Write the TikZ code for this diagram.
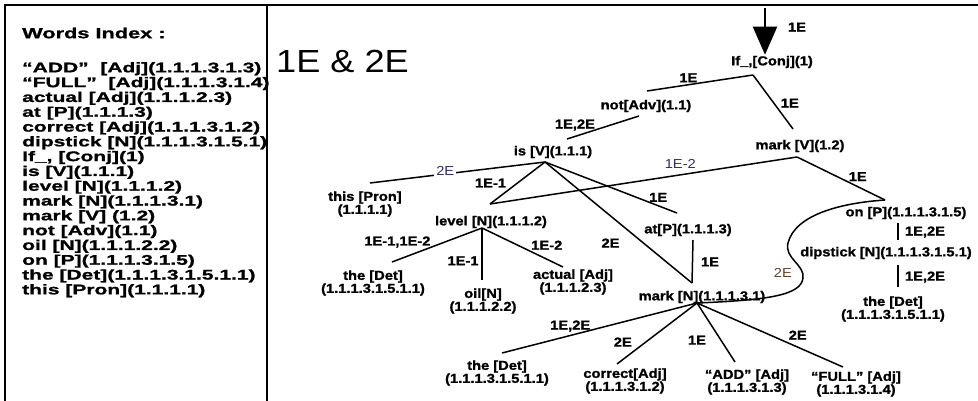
\documentclass[tikz,border=0pt]{standalone}
\usepackage{fontspec}
\setmainfont{Liberation Sans}[FakeStretch=1.13, BoldFeatures={FakeBold=1.2}]
\newfontfamily\idxfont{Liberation Sans}[FakeStretch=1.5, BoldFeatures={FakeBold=1.2}]
\usetikzlibrary{arrows.meta}
\definecolor{labnavy}{RGB}{45,45,95}
\definecolor{labbrown}{RGB}{95,65,45}

\begin{document}
\begin{tikzpicture}[x=1pt,y=-1pt]
\tikzstyle{word}=[inner sep=0pt, align=center, font=\bfseries\fontsize{13}{13}\selectfont]
\tikzstyle{link}=[line width=1.5pt]
\tikzstyle{elab}=[inner sep=0pt, font=\bfseries\fontsize{13}{13}\selectfont]
\tikzstyle{plab}=[inner sep=0pt, font=\fontsize{13}{13}\selectfont]
\tikzstyle{frame}=[line width=2pt]
  \useasboundingbox (0,0) rectangle (978,401);
  \draw[frame] (5,401) -- (5,5) -- (978,5);
  \draw[frame] (267,5) -- (267,401);

  \node[anchor=west, inner sep=0pt, font=\idxfont\bfseries\fontsize{14.5}{14.5}\selectfont] (idxhead) at (22,33) {Words Index :};
  \node[anchor=north west, inner sep=0pt, align=left, font=\idxfont\bfseries\fontsize{14}{14.8}\selectfont] (idxlist) at (22,62) {“ADD”~~[Adj](1.1.1.3.1.3)\\
“FULL”~~[Adj](1.1.1.3.1.4)\\
actual [Adj](1.1.1.2.3)\\
at [P](1.1.1.3)\\
correct [Adj](1.1.1.3.1.2)\\
dipstick [N](1.1.1.3.1.5.1)\\
If\_, [Conj](1)\\
is [V](1.1.1)\\
level [N](1.1.1.2)\\
mark [N](1.1.1.3.1)\\
mark [V] (1.2)\\
not [Adv](1.1)\\
oil [N](1.1.1.2.2)\\
on [P](1.1.1.3.1.5)\\
the [Det](1.1.1.3.1.5.1.1)\\
this [Pron](1.1.1.1)};

  \node[anchor=west, inner sep=0pt, font=\fontsize{32}{32}\selectfont] (title) at (276,61) {1E \& 2E};

  \node[word] (conj) at (772,62) {If\_,[Conj](1)};
  \node[word] (notadv) at (646,106) {not[Adv](1.1)};
  \node[word] (markv) at (800,146) {mark [V](1.2)};
  \node[word] (isv) at (553,152) {is [V](1.1.1)};
  \node[word] (pron) at (365,204) {this [Pron]\\(1.1.1.1)};
  \node[word] (level) at (491,222) {level [N](1.1.1.2)};
  \node[word] (atp) at (688,230) {at[P](1.1.1.3)};
  \node[word] (markn) at (702,297) {mark [N](1.1.1.3.1)};
  \node[word] (onp) at (906,213) {on [P](1.1.1.3.1.5)};
  \node[word] (dip) at (886,253) {dipstick [N](1.1.1.3.1.5.1)};
  \node[word] (detc) at (893,309) {the [Det]\\(1.1.1.3.1.5.1.1)};
  \node[word] (deta) at (373,283) {the [Det]\\(1.1.1.3.1.5.1.1)};
  \node[word] (oil) at (483,301) {oil[N]\\(1.1.1.2.2)};
  \node[word] (actual) at (573,282) {actual [Adj]\\(1.1.1.2.3)};
  \node[word] (detb) at (497,373) {the [Det]\\(1.1.1.3.1.5.1.1)};
  \node[word] (correct) at (625,381) {correct[Adj]\\(1.1.1.3.1.2)};
  \node[word] (add) at (747,382) {“ADD” [Adj]\\(1.1.1.3.1.3)};
  \node[word] (full) at (856,384) {“FULL” [Adj]\\(1.1.1.3.1.4)};

  \coordinate (arrT) at (765,8);
  \coordinate (conjB) at (753,75);
  \coordinate (notT) at (647,91);
  \coordinate (notB) at (639,116);
  \coordinate (markvT) at (793,129);
  \coordinate (markvB) at (797,157);
  \coordinate (isT) at (567,139);
  \coordinate (isB) at (545,162);
  \coordinate (pronT) at (370,183);
  \coordinate (levelT) at (490,204);
  \coordinate (levelB) at (482,228);
  \coordinate (atT) at (677,213);
  \coordinate (atB) at (693,240);
  \coordinate (marknT) at (692,283);
  \coordinate (marknB) at (697,303);
  \coordinate (onT) at (885,200);
  \coordinate (onB) at (898,223);
  \coordinate (dipT) at (898,240);
  \coordinate (dipB) at (898,265);
  \coordinate (detcT) at (898,287);
  \coordinate (detaT) at (392,262);
  \coordinate (oilT) at (482,280);
  \coordinate (actualT) at (563,267);
  \coordinate (detbT) at (502,353);
  \coordinate (correctT) at (617,364);
  \coordinate (addT) at (735,362);
  \coordinate (fullT) at (843,367);

  \draw[line width=2pt, -{Triangle[length=28pt,width=24pt]}, shorten >=1pt] (arrT) -- node[elab, pos=0.4, xshift=32pt] {1E} (arrT |- conj.north);
  \path (conjB) edge[link] node[elab, pos=0.61, yshift=7pt] {1E} (notT);
  \path (conjB) edge[link] node[elab, pos=0.52, xshift=16pt] {1E} (markvT);
  \path (notB) edge[link] node[elab, pos=0.89, yshift=11.5pt] {1E,2E} (isT);
  \path (isB) edge[link] node[plab, pos=0.57, yshift=3pt, fill=white, inner sep=2pt, text=labnavy] {2E} (pronT);
  \path (isB) edge[link] node[elab, pos=0.5, xshift=-27pt] {1E-1} (levelT);
  \path (markvB) edge[link] node[plab, pos=0.38, yshift=11pt, text=labnavy] {1E-2} (levelT);
  \path (isB) edge[link] node[elab, pos=0.85, xshift=1pt, yshift=8pt] {1E} (atT);
  \path (isB) edge[link] node[elab, pos=0.67, xshift=-33pt] {2E} (marknT);
  \path (markvB) edge[link] node[elab, pos=0.69, yshift=10pt] {1E} (onT);
  \path (levelB) edge[link] node[elab, pos=0.94, yshift=18pt] {1E-1,1E-2} (detaT);
  \path (levelB) edge[link] node[elab, pos=0.63, xshift=-19pt] {1E-1} (oilT);
  \path (levelB) edge[link] node[elab, pos=0.8, yshift=14pt] {1E-2} (actualT);
  \path (atB) edge[link] node[elab, pos=0.51, xshift=17.5pt] {1E} (marknT);
  \path (onB) edge[link] node[elab, pos=0.53, xshift=27pt] {1E,2E} (dipT);
  \path (dipB) edge[link] node[elab, pos=0.55, xshift=27pt] {1E,2E} (detcT);
  \draw[link] (onT) .. controls (840,203) and (795,215) .. (788,243) .. controls (784,258) and (805,265) .. (803,278) node[plab, pos=0.7, xshift=-17pt, yshift=-5pt, text=labbrown] {2E} .. controls (801,295) and (770,300) .. (marknB);
  \path (marknB) edge[link] node[elab, pos=0.65, yshift=9.5pt] {1E,2E} (detbT);
  \path (marknB) edge[link] node[elab, pos=0.64, xshift=-23pt] {2E} (correctT);
  \path (marknB) edge[link] node[elab, pos=0.63, xshift=-24pt] {1E} (addT);
  \path (marknB) edge[link] node[elab, pos=0.69, yshift=12pt] {2E} (fullT);
\end{tikzpicture}
\end{document}
